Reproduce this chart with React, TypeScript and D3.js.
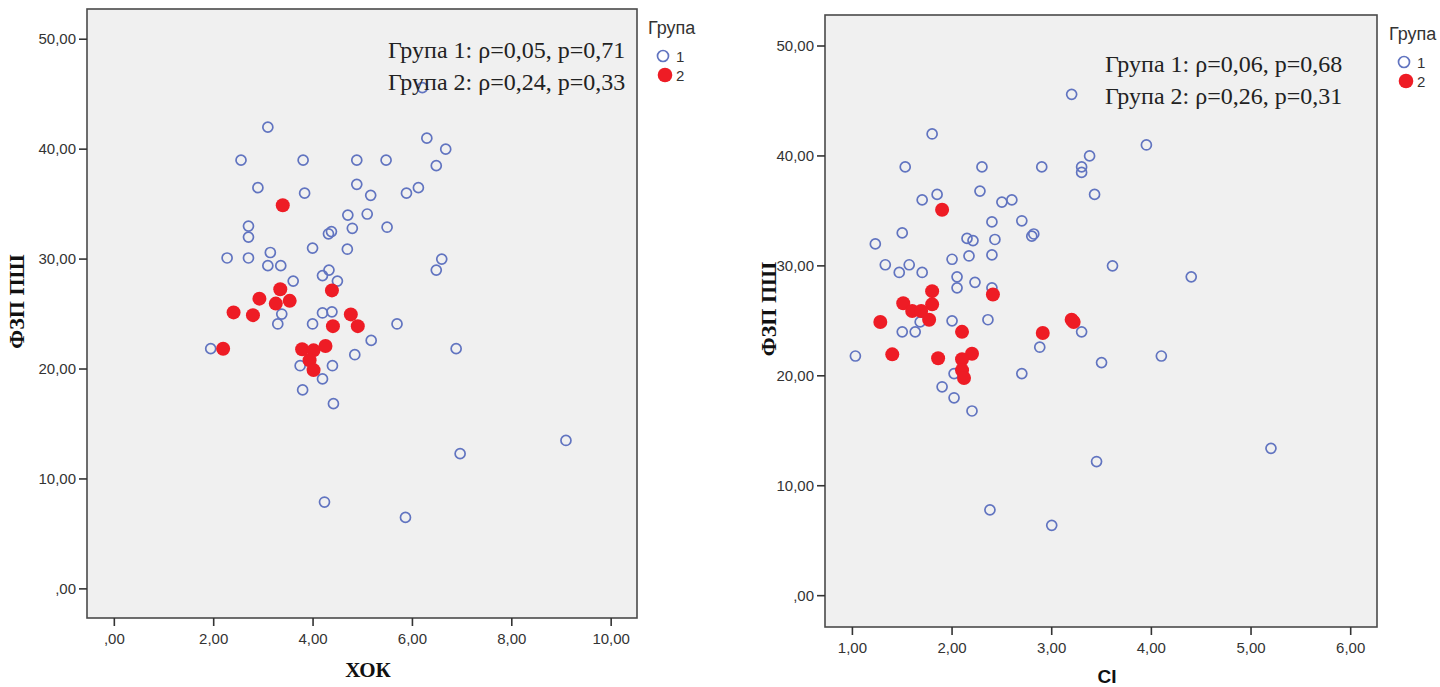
import * as d3 from 'd3';
import { useEffect, useRef } from 'react';

// group 1 = open blue circles, group 2 = filled red
const hokGroup1 = [
  [3.09, 42.0], [2.55, 39.0], [3.8, 39.0], [4.88, 39.0], [5.47, 39.0], [6.29, 41.0],
  [6.67, 40.0], [6.48, 38.5], [6.2, 45.6], [2.89, 36.5], [3.83, 36.0], [4.88, 36.8],
  [5.16, 35.8], [5.88, 36.0], [6.12, 36.5], [4.7, 34.0], [5.09, 34.1], [2.7, 33.0],
  [2.7, 32.0], [4.31, 32.3], [4.37, 32.5], [4.79, 32.8], [5.49, 32.9], [3.99, 31.0],
  [4.69, 30.9], [2.27, 30.1], [2.7, 30.1], [3.14, 30.6], [3.09, 29.4], [3.35, 29.4],
  [6.59, 30.0], [6.48, 29.0], [4.32, 29.0], [4.19, 28.5], [4.49, 28.0], [3.6, 28.0],
  [3.37, 25.0], [3.29, 24.1], [4.19, 25.1], [4.38, 25.2], [3.99, 24.1], [5.69, 24.1],
  [5.17, 22.6], [1.94, 21.85], [6.88, 21.85], [4.84, 21.3], [3.74, 20.3], [4.39, 20.3],
  [4.19, 19.1], [3.79, 18.1], [4.41, 16.85], [6.96, 12.3], [4.23, 7.9], [5.86, 6.5],
  [9.09, 13.5],
];
const hokGroup2 = [
  [3.39, 34.9], [3.34, 27.25], [4.38, 27.15], [2.92, 26.4], [3.25, 25.95], [3.53, 26.2],
  [2.4, 25.15], [2.79, 24.9], [4.76, 24.97], [4.4, 23.9], [4.9, 23.9], [2.19, 21.85],
  [3.78, 21.8], [4.01, 21.7], [4.25, 22.1], [3.93, 20.8], [4.01, 19.9],
];

const ciGroup1 = [
  [3.2, 45.6], [1.8, 42.0], [1.53, 39.0], [2.3, 39.0], [2.9, 39.0], [3.3, 39.0],
  [3.3, 38.5], [3.38, 40.0], [3.43, 36.5], [3.95, 41.0], [1.7, 36.0], [1.85, 36.5],
  [2.28, 36.8], [2.5, 35.8], [2.6, 36.0], [2.4, 34.0], [2.7, 34.1], [1.5, 33.0],
  [2.15, 32.5], [2.21, 32.3], [2.43, 32.4], [2.8, 32.7], [2.82, 32.9], [1.23, 32.0],
  [2.0, 30.6], [2.17, 30.9], [2.4, 31.0], [1.33, 30.1], [1.57, 30.1], [1.47, 29.4],
  [1.7, 29.4], [2.05, 29.0], [2.05, 28.0], [2.23, 28.5], [2.4, 28.0], [3.61, 30.0],
  [4.4, 29.0], [2.0, 25.0], [2.36, 25.1], [1.68, 24.9], [1.5, 24.0], [1.63, 24.0],
  [3.3, 24.0], [1.03, 21.8], [2.02, 20.2], [2.7, 20.2], [2.88, 22.6], [3.5, 21.2],
  [4.1, 21.8], [1.9, 19.0], [2.02, 18.0], [2.2, 16.8], [5.2, 13.4], [3.45, 12.2],
  [2.38, 7.8], [3.0, 6.4],
];
const ciGroup2 = [
  [1.9, 35.1], [1.8, 27.7], [1.8, 26.5], [1.51, 26.6], [1.6, 25.9], [1.69, 25.9],
  [1.77, 25.1], [2.41, 27.4], [1.28, 24.9], [2.1, 24.0], [2.91, 23.9], [3.2, 25.1],
  [3.22, 24.9], [1.4, 21.95], [1.86, 21.6], [2.2, 22.0], [2.1, 21.5], [2.1, 20.5],
  [2.12, 19.8],
];

const yTicks = [0, 10, 20, 30, 40, 50];
const hokTicks = [0, 2, 4, 6, 8, 10];
const ciTicks = [1, 2, 3, 4, 5, 6];
const hokStats = ['Група 1: ρ=0,05, p=0,71', 'Група 2: ρ=0,24, p=0,33'];
const ciStats = ['Група 1: ρ=0,06, p=0,68', 'Група 2: ρ=0,26, p=0,31'];
const legendTitle = 'Група';
const legendItems = ['1', '2'];

const fmt = (v) => (v === 0 ? ',00' : v.toFixed(2).replace('.', ','));

const panels = [
  {
    g1: hokGroup1, g2: hokGroup2, xTicks: hokTicks, stats: hokStats,
    xTitle: 'ХОК', xTitleFont: '"Liberation Serif", serif', xTitleSize: '21px', xTitleDy: 59,
    box: { x0: 87, x1: 637, y0: 9, y1: 618 },
    xDom: [-0.55, 10.52], yDom: [-2.65, 52.75],
    statsX: 388, statsY: 58, yTitleX: 24, legendX: 648, legendY: 34,
  },
  {
    g1: ciGroup1, g2: ciGroup2, xTicks: ciTicks, stats: ciStats,
    xTitle: 'CI', xTitleFont: '"Liberation Sans", Arial, sans-serif', xTitleSize: '19px', xTitleDy: 56,
    box: { x0: 825, x1: 1377, y0: 15, y1: 627 },
    xDom: [0.725, 6.264], yDom: [-2.85, 52.82],
    statsX: 1105, statsY: 72, yTitleX: 776, legendX: 1389, legendY: 40,
  },
];

const App = () => {
  const ref = useRef(null);

  useEffect(() => {
    const svg = d3.select(ref.current);
    svg.selectAll('*').remove();
    const sans = '"Liberation Sans", Arial, sans-serif';
    const serif = '"Liberation Serif", "Times New Roman", serif';

    panels.forEach((p) => {
      const b = p.box;
      const x = d3.scaleLinear().domain(p.xDom).range([b.x0, b.x1]);
      const y = d3.scaleLinear().domain(p.yDom).range([b.y1, b.y0]);
      const g = svg.append('g');

      g.append('rect')
        .attr('x', b.x0).attr('y', b.y0)
        .attr('width', b.x1 - b.x0).attr('height', b.y1 - b.y0)
        .attr('fill', '#f0f0f0')
        .attr('stroke', '#4a4a4a')
        .attr('stroke-width', 1.6);

      // y axis
      g.selectAll('.yt').data(yTicks).join('line')
        .attr('x1', b.x0 - 8).attr('x2', b.x0)
        .attr('y1', (d) => y(d)).attr('y2', (d) => y(d))
        .attr('stroke', '#333').attr('stroke-width', 1.6);
      g.selectAll('.yl').data(yTicks).join('text')
        .attr('x', b.x0 - 11).attr('y', (d) => y(d) + 5)
        .attr('text-anchor', 'end')
        .style('font-family', sans).style('font-size', '15px').style('fill', '#333')
        .text(fmt);

      // x axis
      g.selectAll('.xt').data(p.xTicks).join('line')
        .attr('x1', (d) => x(d)).attr('x2', (d) => x(d))
        .attr('y1', b.y1).attr('y2', b.y1 + 8)
        .attr('stroke', '#333').attr('stroke-width', 1.6);
      g.selectAll('.xl').data(p.xTicks).join('text')
        .attr('x', (d) => x(d)).attr('y', b.y1 + 26)
        .attr('text-anchor', 'middle')
        .style('font-family', sans).style('font-size', '15px').style('fill', '#333')
        .text(fmt);

      // axis titles
      g.append('text')
        .attr('x', (b.x0 + b.x1) / 2 + 6).attr('y', b.y1 + p.xTitleDy)
        .attr('text-anchor', 'middle')
        .style('font-family', p.xTitleFont).style('font-weight', 'bold')
        .style('font-size', p.xTitleSize).style('fill', '#111')
        .text(p.xTitle);
      g.append('text')
        .attr('transform', `translate(${p.yTitleX},${(b.y0 + b.y1) / 2 - 12}) rotate(-90)`)
        .attr('text-anchor', 'middle')
        .style('font-family', serif).style('font-weight', 'bold')
        .style('font-size', '22px').style('fill', '#111')
        .text('ФЗП ПШ');

      // points
      g.selectAll('.p1').data(p.g1).join('circle')
        .attr('cx', (d) => x(d[0])).attr('cy', (d) => y(d[1]))
        .attr('r', 5)
        .attr('fill', 'none')
        .attr('stroke', '#6174c0')
        .attr('stroke-width', 1.7);
      g.selectAll('.p2').data(p.g2).join('circle')
        .attr('cx', (d) => x(d[0])).attr('cy', (d) => y(d[1]))
        .attr('r', 7)
        .attr('fill', '#ee1c25');

      // stats
      g.selectAll('.st').data(p.stats).join('text')
        .attr('x', p.statsX).attr('y', (d, i) => p.statsY + i * 31.5)
        .style('font-family', serif).style('font-size', '24px').style('fill', '#222')
        .text((d) => d);

      // legend
      g.append('text')
        .attr('x', p.legendX).attr('y', p.legendY)
        .style('font-family', sans).style('font-size', '18px').style('fill', '#333')
        .text(legendTitle);
      legendItems.forEach((t, i) => {
        const cy = p.legendY + 22 + i * 19;
        if (i === 0) {
          g.append('circle').attr('cx', p.legendX + 15).attr('cy', cy).attr('r', 5.5)
            .attr('fill', 'none').attr('stroke', '#6174c0').attr('stroke-width', 1.7);
        } else {
          g.append('circle').attr('cx', p.legendX + 17).attr('cy', cy).attr('r', 7.3)
            .attr('fill', '#ee1c25');
        }
        g.append('text')
          .attr('x', p.legendX + 28).attr('y', cy + 6)
          .style('font-family', sans).style('font-size', '15px').style('fill', '#333')
          .text(t);
      });
    });
  }, []);

  return (
    <svg
      ref={ref}
      width={1440}
      height={687}
      style={{ position: 'absolute', left: 0, top: 0, background: '#fff' }}
    ></svg>
  );
};

export default App;
